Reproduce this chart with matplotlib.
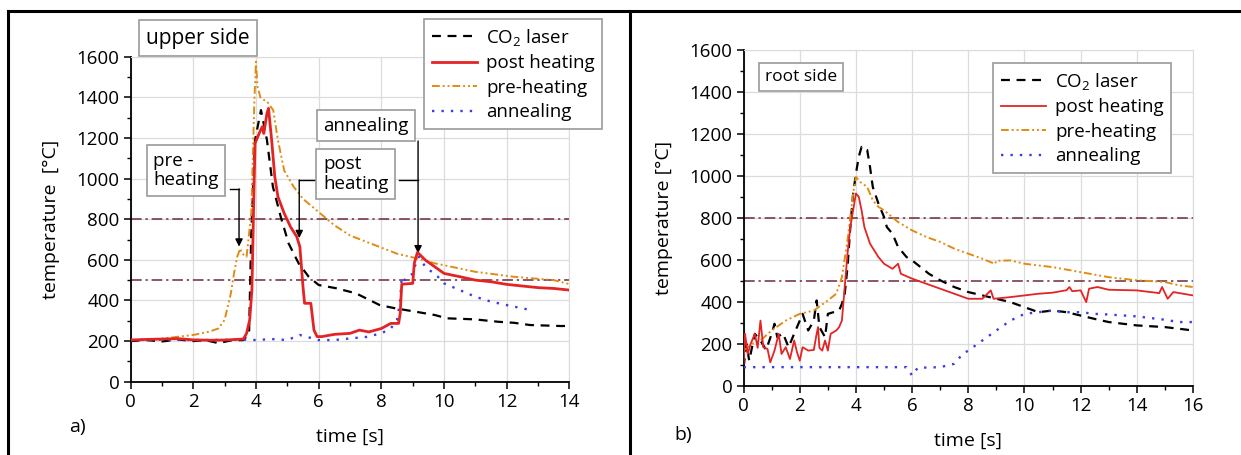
import matplotlib
matplotlib.use("Agg")
import matplotlib.pyplot as plt
from matplotlib.lines import Line2D
from matplotlib.ticker import MultipleLocator

plt.rcParams["font.family"] = ["Open Sans", "DejaVu Sans"]
plt.rcParams["mathtext.default"] = "regular"

# ---- a) upper side ----
up_co2_t = [0, 0.5, 1.0, 1.5, 2.0, 2.4, 2.8, 3.2, 3.6, 3.78, 3.85, 3.97, 4.16, 4.35, 4.54, 4.79, 5.04,
            5.36, 5.68, 6.0, 6.56, 7.19, 7.95, 8.45, 9.08, 9.71, 10.09, 10.97, 11.73, 12.23, 12.74, 13.75, 14.0]
up_co2_T = [200, 205, 198, 208, 200, 204, 190, 203, 205, 238, 730, 1190, 1337, 1190, 960, 812, 681,
            583, 517, 476, 460, 435, 377, 361, 345, 328, 312, 307, 295, 290, 279, 274, 275]

up_post_t = [0, 0.5, 1.0, 1.5, 2.0, 2.5, 3.0, 3.6, 3.7, 3.8, 3.87, 3.93, 3.97, 4.1, 4.2, 4.25, 4.35, 4.4,
             4.5, 4.6, 4.7, 4.9, 5.1, 5.3, 5.4, 5.45, 5.5, 5.55, 5.75, 5.85, 5.95, 6.1, 6.5, 7.0, 7.3,
             7.6, 8.0, 8.3, 8.55, 8.6, 8.65, 9.0, 9.05, 9.15, 9.4, 9.7, 10.0, 10.5, 11.0, 11.5, 12.0,
             12.5, 13.0, 13.5, 14.0]
up_post_T = [205, 208, 210, 212, 206, 204, 205, 210, 238, 304, 451, 894, 1173, 1222, 1255, 1222, 1321, 1346,
             1190, 1009, 911, 829, 763, 714, 665, 566, 468, 386, 386, 254, 222, 222, 233, 238, 254,
             245, 262, 287, 287, 336, 480, 484, 583, 637, 599, 566, 533, 517, 500, 492, 479,
             471, 463, 459, 451]

up_pre_t = [0, 1.0, 2.0, 2.5, 2.8, 3.0, 3.2, 3.3, 3.4, 3.5, 3.55, 3.7, 3.85, 3.95, 4.0, 4.05, 4.15, 4.35,
            4.55, 4.7, 4.9, 5.2, 5.5, 6.0, 6.5, 7.0, 7.5, 8.0, 8.5, 9.0, 9.7, 11.0, 12.2, 13.5, 14.0]
up_pre_T = [205, 212, 230, 246, 262, 304, 435, 533, 615, 656, 632, 615, 829, 1387, 1575, 1452, 1395, 1380,
            1337, 1190, 1040, 960, 900, 835, 770, 720, 690, 660, 630, 612, 583, 541, 517, 500, 480]

up_ann_t = [0, 1.0, 2.0, 3.0, 3.5, 4.0, 4.5, 5.0, 5.4, 6.0, 6.5, 7.0, 7.5, 8.0, 8.3, 8.5, 8.6, 8.65,
            8.75, 9.0, 9.1, 9.2, 9.4, 9.8, 10.0, 10.5, 11.0, 11.5, 12.0, 12.5, 12.75]
up_ann_T = [205, 207, 205, 206, 208, 205, 210, 205, 230, 205, 205, 213, 220, 238, 262, 304, 402, 517,
            500, 533, 583, 615, 566, 517, 484, 451, 418, 394, 377, 361, 353]

# ---- b) root side ----
rt_co2_t = [0, 0.1, 0.2, 0.4, 0.6, 0.8, 1.0, 1.1, 1.2, 1.4, 1.6, 1.8, 2.0, 2.1, 2.3, 2.5, 2.6, 2.7, 2.9,
            3.0, 3.2, 3.4, 3.5, 3.6, 3.7, 3.8, 3.9, 4.0, 4.1, 4.2, 4.3, 4.4, 4.5, 4.6, 4.8, 5.0, 5.1,
            5.3, 5.5, 5.8, 6.0, 6.3, 6.6, 7.0, 7.5, 8.0, 8.5, 9.0, 9.5, 10.0, 10.5, 11.0, 11.5, 12.0,
            12.5, 13.0, 13.5, 14.0, 15.0, 15.5, 16.0]
rt_co2_T = [88, 199, 119, 247, 215, 170, 247, 295, 231, 250, 183, 247, 310, 342, 263, 310, 406, 279, 231,
            342, 350, 358, 390, 438, 565, 756, 916, 1011, 1091, 1138, 1123, 1123, 1043, 947, 868, 804, 756,
            724, 661, 613, 597, 565, 533, 502, 470, 446, 430, 414, 398, 374, 350, 358, 350, 334,
            318, 303, 295, 287, 279, 271, 263]

rt_post_t = [0, 0.05, 0.15, 0.25, 0.4, 0.5, 0.6, 0.7, 0.85, 0.95, 1.1, 1.25, 1.35, 1.5, 1.65, 1.8, 1.9,
             2.0, 2.1, 2.3, 2.5, 2.6, 2.65, 2.7, 2.8, 2.9, 3.0, 3.1, 3.3, 3.4, 3.5, 3.6, 3.7, 3.8, 3.9,
             4.0, 4.1, 4.2, 4.3, 4.5, 4.8, 5.0, 5.3, 5.5, 5.6, 6.0, 6.5, 7.0, 7.5, 8.0, 8.5, 8.8, 8.9,
             9.5, 10.0, 10.5, 11.0, 11.5, 11.6, 11.7, 12.0, 12.2, 12.3, 12.6, 13.0, 14.0, 14.8, 14.9,
             15.1, 15.3, 16.0]
rt_post_T = [104, 247, 151, 199, 247, 180, 310, 183, 175, 111, 167, 247, 151, 183, 127, 215, 160,
             119, 183, 167, 170, 247, 279, 180, 167, 215, 167, 247, 263, 279, 310, 470, 629, 756, 836,
             916, 900, 836, 756, 677, 613, 581, 557, 581, 533, 510, 486, 462, 438, 414, 414, 454, 414,
             422, 430, 438, 443, 455, 470, 450, 454, 398, 462, 470, 457, 454, 441, 470,
             414, 446, 430]

rt_pre_t = [0, 0.3, 0.6, 1.0, 1.5, 2.0, 2.5, 3.0, 3.3, 3.5, 3.7, 3.9, 4.0, 4.15, 4.4, 4.6, 4.8, 5.0, 5.5,
            6.0, 6.5, 7.0, 7.5, 8.0, 8.5, 8.95, 9.0, 9.5, 10.0, 11.0, 12.0, 13.0, 14.0, 15.0, 15.5, 16.0]
rt_pre_T = [167, 199, 215, 263, 310, 342, 358, 406, 438, 517, 693, 916, 995, 971, 947, 884, 852, 836, 780,
            740, 709, 685, 653, 629, 605, 580, 595, 597, 581, 565, 541, 517, 502, 494, 478, 470]

rt_ann_t = [0, 1.0, 2.0, 3.0, 4.0, 5.0, 5.8, 6.0, 6.2, 7.0, 7.5, 7.8, 8.0, 8.5, 9.0, 9.5, 10.0, 10.5,
            11.0, 11.5, 12.0, 12.5, 13.0, 14.0, 15.0, 15.5, 16.0]
rt_ann_T = [88, 88, 88, 88, 88, 88, 88, 48, 85, 88, 104, 151, 167, 215, 263, 310, 342, 350,
            358, 350, 350, 342, 339, 330, 314, 303, 303]

ref_levels = [800, 500]

RED = "#e42424"
ORANGE = "#e08c14"
BLUE = "#3c3ce6"
REF = "#6e2a3a"
GRID = "#dcdcdc"

fig = plt.figure(figsize=(12.41, 4.55), dpi=100)
ax1 = fig.add_axes([0.1052, 0.1611, 0.3537, 0.7143])
ax2 = fig.add_axes([0.5992, 0.1525, 0.3621, 0.7376])


def style(ax, xmax):
    ax.set_xlim(0, xmax)
    ax.set_ylim(0, 1600)
    ax.xaxis.set_major_locator(MultipleLocator(2))
    ax.xaxis.set_minor_locator(MultipleLocator(1))
    ax.yaxis.set_major_locator(MultipleLocator(200))
    ax.yaxis.set_minor_locator(MultipleLocator(100))
    ax.grid(True, which="major", color=GRID, lw=0.9)
    ax.set_axisbelow(True)
    for s in ("top", "right"):
        ax.spines[s].set_color(GRID)
    for s in ("left", "bottom"):
        ax.spines[s].set_linewidth(1.3)
    ax.tick_params(which="major", direction="out", length=5, width=1.1, labelsize=13.5, pad=3)
    ax.tick_params(which="minor", direction="out", length=3, width=1.0)
    ax.tick_params(top=False, right=False, which="both")
    ax.set_xlabel("time [s]", fontsize=14, labelpad=12)
    for y in ref_levels:
        ax.axhline(y, color=REF, lw=1.1, ls=(0, (7, 2.5, 1.5, 2.5)), zorder=1)


style(ax1, 14)
style(ax2, 16)
ax1.set_ylabel("temperature  [°C]", fontsize=14, labelpad=12)
ax2.set_ylabel("temperature [°C]", fontsize=14, labelpad=12)

dash_k = (0, (4, 3))
dash_o = (0, (4, 1.5, 1, 1.5, 1, 1.5))
dot_b = (0, (1, 3))

ax1.plot(up_co2_t, up_co2_T, color="k", lw=1.6, ls=dash_k, label="CO$_2$ laser", zorder=3)
ax1.plot(up_post_t, up_post_T, color=RED, lw=2.0, label="post heating", zorder=4)
ax1.plot(up_pre_t, up_pre_T, color=ORANGE, lw=1.4, ls=dash_o, label="pre-heating", zorder=3)
ax1.plot(up_ann_t, up_ann_T, color=BLUE, lw=1.7, ls=dot_b, label="annealing", zorder=3)

ax2.plot(rt_co2_t, rt_co2_T, color="k", lw=1.6, ls=dash_k, label="CO$_2$ laser", zorder=3)
ax2.plot(rt_post_t, rt_post_T, color=RED, lw=1.3, label="post heating", zorder=4)
ax2.plot(rt_pre_t, rt_pre_T, color=ORANGE, lw=1.4, ls=dash_o, label="pre-heating", zorder=3)
ax2.plot(rt_ann_t, rt_ann_T, color=BLUE, lw=1.7, ls=dot_b, label="annealing", zorder=3)

leg_kw = dict(loc="upper left", bbox_transform=fig.transFigure, borderaxespad=0, fancybox=False,
              framealpha=1, edgecolor="#9a9a9a", fontsize=13.5, handlelength=2.4, handletextpad=0.5,
              labelspacing=0.35, borderpad=0.4)
l1 = ax1.legend(bbox_to_anchor=(0.3417, 0.9582), **leg_kw)
l2 = ax2.legend(bbox_to_anchor=(0.8002, 0.8615), **leg_kw)
for lg in (l1, l2):
    lg.get_frame().set_linewidth(1.2)
    lg.set_zorder(10)

box = dict(boxstyle="square,pad=0.35", fc="white", ec="#9a9a9a", lw=1.2)

ax1.text(2.14, 1692, "upper side", fontsize=15, ha="center", va="center", bbox=box, clip_on=False)
ax1.text(0.72, 1040, "pre -\nheating", fontsize=13.5, ha="left", va="center", bbox=box,
         linespacing=1.1)
ax1.text(7.51, 1261, "annealing", fontsize=13.5, ha="center", va="center", bbox=box)
ax1.text(6.14, 1022, "post\nheating", fontsize=13.5, ha="left", va="center", bbox=box,
         linespacing=1.1)
ax2.text(2.04, 1471, "root side", fontsize=12.5, ha="center", va="center", bbox=box)

arrow = dict(arrowstyle="-|>", color="k", lw=1.0, mutation_scale=11, shrinkA=0, shrinkB=0)
# pre-heating callout
ax1.plot([3.17, 3.46], [949, 949], color="k", lw=1.0, zorder=5)
ax1.annotate("", xy=(3.46, 665), xytext=(3.46, 949), arrowprops=arrow)
# post heating callout (left branch)
ax1.plot([5.85, 5.38], [993, 993], color="k", lw=1.0, zorder=5)
ax1.annotate("", xy=(5.38, 707), xytext=(5.38, 993), arrowprops=arrow)
# post heating right branch joins annealing arrow
ax1.plot([8.56, 9.17], [993, 993], color="k", lw=1.0, zorder=5)
ax1.annotate("", xy=(9.17, 632), xytext=(9.17, 1185), arrowprops=arrow)

fig.text(77 / 1241, 1 - 427 / 455, "a)", fontsize=14, ha="center", va="center")
fig.text(683 / 1241, 1 - 435 / 455, "b)", fontsize=14, ha="center", va="center")

# outer frame of the figure
for xs, ys in (([8 / 1241, 1], [1 - 11 / 455] * 2),
               ([8 / 1241] * 2, [0, 1 - 11 / 455]),
               ([630 / 1241] * 2, [0, 1 - 11 / 455])):
    fig.add_artist(Line2D(xs, ys, color="k", lw=2.2, transform=fig.transFigure))

fig.savefig("out.png", dpi=100)
